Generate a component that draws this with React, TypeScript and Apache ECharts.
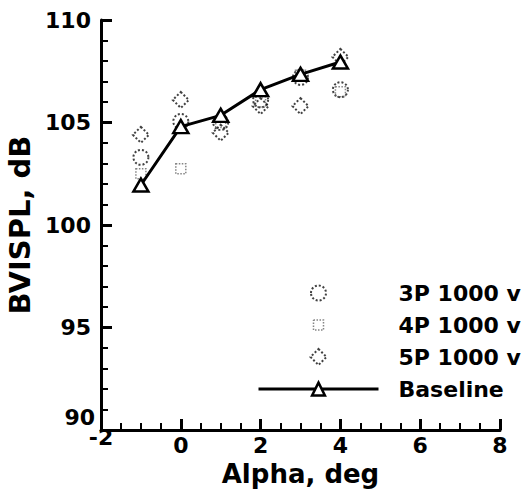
import React, { useEffect, useRef } from "react";
import * as echarts from "echarts";

const alphaValues = [-1, 0, 1, 2, 3, 4];
const series3P = [103.3, 105.05, 105.0, 106.1, 107.2, 106.6];
const series4P = [102.5, 102.75, 105.0, 106.0, 107.3, 106.5];
const series5P = [104.4, 106.1, 104.5, 105.8, 105.8, 108.2];
const baseline = [101.95, 104.8, 105.35, 106.6, 107.35, 107.95];
const seriesNames = ["3P 1000 v", "4P 1000 v", "5P 1000 v", "Baseline"];
const xTicks = { min: -2, max: 8, interval: 2 };
const yTicks = { min: 90, max: 110, interval: 5 };

const FONT = "DejaVu Sans";

function pairs(ys: number[]) {
  return alphaValues.map((x, i) => [x, ys[i]]);
}

export default function App() {
  const ref = useRef<HTMLDivElement>(null);
  useEffect(() => {
    document.body.style.margin = "0";
    const chart = echarts.init(ref.current!, undefined, { renderer: "svg" });
    const labelBase = { fontFamily: FONT, fontWeight: "bold" as const, fontSize: 22, color: "#000" };
    const dottedDark = { color: "rgba(0,0,0,0)", borderColor: "#111", borderWidth: 2, borderType: "dotted" };
    const dottedLight = { color: "rgba(0,0,0,0)", borderColor: "#666", borderWidth: 1.5, borderType: "dotted" };
    const option: any = {
      animation: false,
      backgroundColor: "#fff",
      grid: { left: 101, top: 20, right: 32, bottom: 68, outerBoundsMode: "none" },
      xAxis: {
        type: "value",
        min: xTicks.min,
        max: xTicks.max,
        interval: xTicks.interval,
        name: "Alpha, deg",
        nameLocation: "middle",
        nameGap: 27,
        nameTextStyle: { fontFamily: FONT, fontWeight: "bold", fontSize: 26, color: "#000" },
        axisLine: { show: true, onZero: false, lineStyle: { color: "#000", width: 3 } },
        axisTick: { show: true, inside: true, length: 11, lineStyle: { color: "#000", width: 3 } },
        minorTick: { show: true, splitNumber: 4, length: 7, lineStyle: { color: "#000", width: 2 } },
        splitLine: { show: false },
        axisLabel: {
          margin: 4,
          ...labelBase,
          formatter: (v: number) => (v === xTicks.min ? `{s|${v}}` : `{n|${v}}`),
          rich: {
            n: { ...labelBase, lineHeight: 22 },
            s: { ...labelBase, lineHeight: 6 },
          },
        },
      },
      yAxis: {
        type: "value",
        min: yTicks.min,
        max: yTicks.max,
        interval: yTicks.interval,
        name: "BVISPL, dB",
        nameLocation: "middle",
        nameGap: 54,
        nameTextStyle: { fontFamily: FONT, fontWeight: "bold", fontSize: 29, color: "#000" },
        axisLine: { show: true, onZero: false, lineStyle: { color: "#000", width: 3 } },
        axisTick: { show: true, inside: true, length: 11, lineStyle: { color: "#000", width: 3 } },
        minorTick: { show: true, splitNumber: 5, length: 7, lineStyle: { color: "#000", width: 2 } },
        splitLine: { show: false },
        axisLabel: {
          margin: 6,
          ...labelBase,
          formatter: (v: number) => (v === yTicks.min ? `{s|${v}}` : `{n|${v}}`),
          rich: {
            n: { ...labelBase, padding: [0, 4, 0, 0] },
            s: { ...labelBase, padding: [0, 0, 26, 0] },
          },
        },
      },
      legend: {
        orient: "vertical",
        left: 257,
        top: 282,
        padding: 0,
        itemWidth: 120,
        itemHeight: 16,
        itemGap: 10,
        selectedMode: false,
        textStyle: { fontFamily: FONT, fontWeight: "bold", fontSize: 22, color: "#000", padding: [0, 0, 0, 15] },
        data: [
          {
            name: seriesNames[0],
            icon: "path://M0,0 M0.5,8 A7.5,7.5 0 1 1 15.5,8 A7.5,7.5 0 1 1 0.5,8 Z M16,16",
            itemStyle: dottedDark,
          },
          { name: seriesNames[1], icon: "path://M0,0 M3,3 L13,3 L13,13 L3,13 Z M16,16", itemStyle: dottedLight },
          { name: seriesNames[2], icon: "path://M0,0 M8,0 L16,8 L8,16 L0,8 Z M16,16", itemStyle: dottedDark },
          {
            name: seriesNames[3],
            lineStyle: { color: "#000", width: 3 },
            itemStyle: { color: "#fff", borderColor: "#000", borderWidth: 2.5 },
          },
        ],
      },
      series: [
        {
          name: seriesNames[0],
          type: "scatter",
          symbol: "circle",
          symbolSize: 15,
          data: pairs(series3P),
          itemStyle: dottedDark,
        },
        {
          name: seriesNames[1],
          type: "scatter",
          symbol: "rect",
          symbolSize: 10,
          data: pairs(series4P),
          itemStyle: dottedLight,
        },
        {
          name: seriesNames[2],
          type: "scatter",
          symbol: "diamond",
          symbolSize: 16,
          data: pairs(series5P),
          itemStyle: dottedDark,
        },
        {
          name: seriesNames[3],
          type: "line",
          symbol: "triangle",
          symbolSize: [15, 13],
          showSymbol: true,
          data: pairs(baseline),
          lineStyle: { color: "#000", width: 3 },
          itemStyle: { color: "#fff", borderColor: "#000", borderWidth: 2.5 },
        },
      ],
    };
    chart.setOption(option);
    return () => chart.dispose();
  }, []);
  return <div ref={ref} style={{ width: 532, height: 498 }} />;
}
